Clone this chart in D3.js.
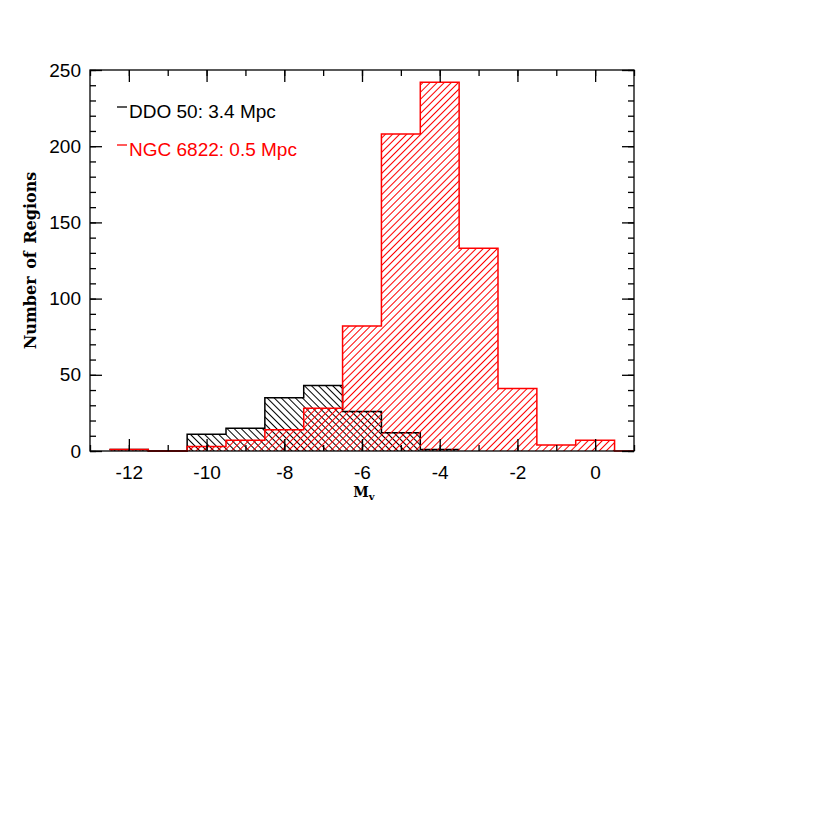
<!DOCTYPE html>
<html lang="en">

<head>
    <meta charset="utf-8">
    <title>Number of Regions vs M_V</title>
    <script src="https://d3js.org/d3.v7.min.js"></script>
    <style>
        body { margin: 0; background: white; }
        .tick text { font-family: "Liberation Sans", Arial, sans-serif; font-size: 19px; fill: black; }
        .axis-title { font-family: "DejaVu Serif", serif; font-weight: bold; font-size: 16px; }
        .legend { font-family: "Liberation Sans", Arial, sans-serif; font-size: 19px; }
    </style>
</head>

<body>
    <div id="chart"></div>

    <script>
        // bin centres (M_V), one magnitude wide
        const magBins = [-12, -11, -10, -9, -8, -7, -6, -5, -4, -3, -2, -1, 0, 1];
        // DDO 50 counts, only out to the -4 bin
        const ddo50Counts = [1, 0, 11, 15, 35, 43, 26, 12, 1];
        // NGC 6822 counts
        const ngc6822Counts = [1, 0, 3, 7, 14, 28, 82, 208, 242, 133, 41, 4, 7, 0];

        const xMajorTicks = [-12, -10, -8, -6, -4, -2, 0];
        const yMajorTicks = [0, 50, 100, 150, 200, 250];

        const seriesNames = ["DDO 50: 3.4 Mpc", "NGC 6822: 0.5 Mpc"];
        const seriesColors = ["black", "red"];

        var width = 830,
            height = 830;
        // plot box edges (note: "top" is a reserved window property, so use other names)
        var boxL = 90, boxR = 634, boxT = 70, boxB = 451;

        var svg = d3.select("#chart")
            .append("svg")
            .attr("width", width)
            .attr("height", height);

        var x = d3.scaleLinear().domain([-13, 1]).range([boxL, boxR]);
        var y = d3.scaleLinear().domain([0, 250]).range([boxB, boxT]);

        var defs = svg.append("defs");

        defs.append("clipPath").attr("id", "plotclip")
            .append("rect")
            .attr("x", boxL).attr("y", boxT - 2)
            .attr("width", boxR - boxL).attr("height", boxB - boxT + 4);

        // hatch patterns: black "\" and red "/"
        function hatch(id, color, gap, angle) {
            var p = defs.append("pattern")
                .attr("id", id)
                .attr("patternUnits", "userSpaceOnUse")
                .attr("width", gap)
                .attr("height", gap)
                .attr("patternTransform", "rotate(" + angle + ")");
            p.append("line")
                .attr("x1", gap / 2).attr("y1", -1)
                .attr("x2", gap / 2).attr("y2", gap + 1)
                .attr("stroke", color)
                .attr("stroke-width", 1.2)
                .attr("shape-rendering", "crispEdges");
        }
        hatch("hatchBlack", "black", 5, -45);
        hatch("hatchRed", "red", 5, 45);

        // edges of the bins as step points
        function stepPoints(counts) {
            var pts = counts.map((c, i) => [magBins[i] - 0.5, c]);
            var last = counts.length - 1;
            pts.push([magBins[last] + 0.5, counts[last]]);
            return pts;
        }

        var area = d3.area()
            .x(d => x(d[0]))
            .y0(y(0))
            .y1(d => y(d[1]))
            .curve(d3.curveStepAfter);

        var line = d3.line()
            .x(d => x(d[0]))
            .y(d => y(d[1]))
            .curve(d3.curveStepAfter);

        var plot = svg.append("g").attr("clip-path", "url(#plotclip)");

        [[ddo50Counts, "hatchBlack", seriesColors[0]], [ngc6822Counts, "hatchRed", seriesColors[1]]]
            .forEach(function (s) {
                var pts = stepPoints(s[0]);
                plot.append("path")
                    .attr("d", area(pts))
                    .attr("fill", "url(#" + s[1] + ")");
                plot.append("path")
                    .attr("d", line(pts))
                    .attr("fill", "none")
                    .attr("stroke", s[2])
                    .attr("stroke-width", 1.5);
            });

        // axes, ticks point inwards on all four sides
        var xMinor = d3.range(-13, 1.01, 1);
        var yMinor = d3.range(0, 251, 10);

        function addAxis(axis, tx, ty) {
            var g = svg.append("g")
                .attr("transform", "translate(" + tx + "," + ty + ")")
                .call(axis);
            g.select(".domain").remove();
            g.selectAll(".tick line").attr("stroke", "black").attr("stroke-width", 1.3);
            return g;
        }

        addAxis(d3.axisBottom(x).tickValues(xMinor).tickSize(-6).tickFormat(""), 0, boxB);
        addAxis(d3.axisTop(x).tickValues(xMinor).tickSize(-6).tickFormat(""), 0, boxT);
        addAxis(d3.axisLeft(y).tickValues(yMinor).tickSize(-6).tickFormat(""), boxL, 0);
        addAxis(d3.axisRight(y).tickValues(yMinor).tickSize(-6).tickFormat(""), boxR, 0);

        var xb = addAxis(d3.axisBottom(x).tickValues(xMajorTicks).tickSize(-12).tickPadding(15).tickFormat(d3.format("d")), 0, boxB);
        addAxis(d3.axisTop(x).tickValues(xMajorTicks).tickSize(-12).tickFormat(""), 0, boxT);
        var yl = addAxis(d3.axisLeft(y).tickValues(yMajorTicks).tickSize(-12).tickPadding(9), boxL, 0);
        addAxis(d3.axisRight(y).tickValues(yMajorTicks).tickSize(-12).tickFormat(""), boxR, 0);

        // minus sign as a plain hyphen like the original
        xb.selectAll(".tick text").text(d => String(d));

        svg.append("rect")
            .attr("x", boxL).attr("y", boxT)
            .attr("width", boxR - boxL).attr("height", boxB - boxT)
            .attr("fill", "none")
            .attr("stroke", "black")
            .attr("stroke-width", 1.3);

        // axis titles
        svg.append("text")
            .attr("class", "axis-title")
            .attr("transform", "translate(36," + ((boxT + boxB) / 2) + ") rotate(-90)")
            .attr("text-anchor", "middle")
            .attr("word-spacing", "2px")
            .text("Number of Regions");

        var xt = svg.append("text")
            .attr("class", "axis-title")
            .attr("x", x(-6) + 2)
            .attr("y", 497)
            .attr("font-size", "14px")
            .attr("text-anchor", "middle");
        xt.append("tspan").attr("font-size", "14px").text("M");
        xt.append("tspan").attr("font-size", "10px").attr("dy", 3).text("v");

        // legend
        seriesNames.forEach(function (name, i) {
            var ly = 118 + i * 38;
            svg.append("line")
                .attr("x1", 117).attr("x2", 127)
                .attr("y1", ly - 11).attr("y2", ly - 11)
                .attr("stroke", seriesColors[i])
                .attr("stroke-width", 1.3);
            svg.append("text")
                .attr("class", "legend")
                .attr("x", 129)
                .attr("y", ly)
                .attr("fill", seriesColors[i])
                .text(name);
        });
    </script>
</body>
</html>
